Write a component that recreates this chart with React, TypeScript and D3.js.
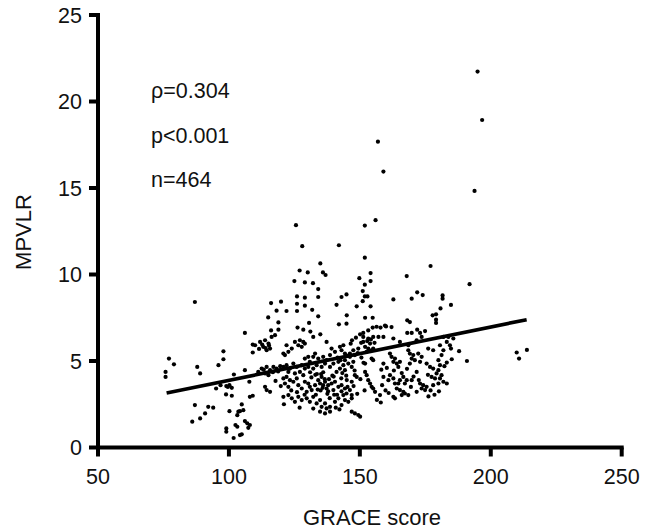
import React from "react";
import * as d3 from "d3";

// X: GRACE score, Y: MPVLR
const xTicks = [50, 100, 150, 200, 250];
const yTicks = [0, 5, 10, 15, 20, 25];
const annotations = ["ρ=0.304", "p<0.001", "n=464"];
const regressionLine: [number, number][] = [[76.2, 3.15], [213.7, 7.39]];

const lowGrace: [number, number][] = [
  [75.8,4.37],[75.8,4.08],[77.1,5.14],[79.0,4.81],[87.0,8.41],[87.9,4.66],[89.0,4.28],[97.9,5.56],[97.9,5.10],[96.0,4.76],
  [109.1,5.95],[109.1,5.49],[106.1,4.47],[101.9,4.22],[107.8,3.80],[99.0,3.55],[100.2,3.60],[101.1,3.45],[99.6,3.50],[96.8,3.60],
  [95.1,3.41],[98.9,3.07],[101.1,2.99],[108.0,2.93],[109.1,2.99],[104.9,2.49],[87.0,2.45],[92.1,2.35],[94.0,2.30],[90.9,1.97],
  [89.0,1.68],[86.0,1.49],[100.2,2.10],[103.2,1.87],[103.6,2.07],[104.2,2.10],[105.5,2.16],[106.1,1.53],[107.0,1.40],[107.4,1.14],
  [108.0,1.30],[99.0,1.10],[99.0,0.91],[102.5,1.30],[103.2,1.20],[104.2,0.72],[104.9,0.76],[101.8,0.55],[106.1,6.62]
];

const upperMid: [number, number][] = [
  [128.0,11.64],[142.0,11.69],[134.9,10.64],[127.0,10.23],[130.1,10.12],[135.9,10.12],[136.9,9.97],[125.0,9.62],[129.0,9.54],[132.1,9.50],
  [134.1,9.16],[126.0,8.73],[129.0,8.66],[134.1,8.70],[143.0,8.70],[144.9,8.85],[116.1,8.35],[119.9,8.43],[126.0,8.31],[129.0,8.20],
  [141.1,8.25],[118.2,7.91],[122.0,7.89],[126.0,7.89],[131.8,7.96],[115.0,7.52],[118.9,7.23],[134.1,7.58],[130.6,7.20],[116.1,6.77],
  [118.9,6.81],[126.2,6.93],[128.4,6.81],[131.1,6.70],[144.9,7.16],[142.0,7.12],[134.9,6.54],[145.0,7.64]
];

const outliers: [number, number][] = [
  [194.96,21.73],[196.7,18.93],[156.9,17.68],[159.0,15.95],[193.8,14.83],[156.0,13.14],[151.9,12.83],[125.6,12.85],[151.9,10.97],[177.0,10.49]
];

const upperRight: [number, number][] = [
  [149.8,9.79],[154.1,10.08],[154.1,9.62],[151.9,9.41],[151.1,9.04],[151.9,8.73],[152.9,8.73],[151.1,8.46],[148.8,8.16],[154.1,8.16],
  [162.8,8.56],[167.9,9.91],[169.8,8.60],[171.9,8.97],[174.0,8.81],[181.6,8.79],[181.6,8.60],[180.8,8.04],[177.8,7.64],[179.1,7.70],
  [179.1,7.39],[179.1,7.20],[152.0,7.50],[154.9,7.50],[157.9,6.93],[160.0,7.00],[162.1,6.96],[154.9,6.93],[153.2,6.77],[151.3,6.62],
  [150.1,6.54],[168.1,6.62],[169.8,6.62],[171.9,6.81],[174.9,6.73],[168.1,7.35],[169.1,7.25],[156.4,6.98],[159.6,7.05],[173.0,6.62],
  [191.9,9.44],[184.8,8.24],[182.3,4.70]
];

const farRight: [number, number][] = [
  [183.8,6.39],[185.7,6.30],[183.2,6.10],[184.4,5.91],[184.8,5.72],[187.9,5.57],[183.2,4.91],[185.1,5.10],[190.9,5.00],[183.2,3.70],
  [209.9,5.49],[210.8,5.14],[213.8,5.64]
];

const denseLeft: [number, number][] = [
  [111.9,6.10],[113.8,6.20],[115.1,6.01],[115.7,5.72],[114.4,5.62],[113.1,5.82],[110.0,5.91],[116.3,6.39],[117.6,6.49],[122.0,5.91],
  [124.0,5.72],[122.7,5.53],[121.4,5.34],[120.8,5.43],[125.2,6.10],[127.1,6.20],[128.4,6.10],[129.0,6.01],[126.5,5.91],[127.8,5.82],
  [132.2,6.39],[137.3,6.10],[132.9,5.43],[139.2,5.72],[140.5,5.53],[142.4,5.82],[143.0,5.62],[144.3,5.43],[143.7,5.91],[129.0,5.14],
  [130.3,5.24],[132.2,5.24],[134.1,5.14],[136.0,5.24],[137.3,5.05],[138.6,5.34],[130.9,4.95],
  [112.5,4.56],[114.4,4.66],[115.7,4.47],[117.0,4.66],[118.2,4.56],[111.2,4.37],[113.8,4.28],[115.1,4.18],[120.8,4.66],[122.0,4.76],
  [123.3,4.56],[124.6,4.85],[125.9,4.66],[127.8,4.76],[129.0,4.56],[130.3,4.66],[122.7,4.37],[125.2,4.28],[127.1,4.37],[128.4,4.18],
  [132.2,4.56],[133.5,4.76],[135.4,4.66],[136.7,4.85],[138.6,4.66],[139.9,4.85],[141.8,4.95],[143.7,4.76],[144.3,5.05],[145.6,4.85],
  [142.4,4.56],[144.3,4.47],[141.1,4.37],
  [120.8,3.99],[122.0,4.08],[123.3,3.89],[121.4,3.70],[122.7,3.51],[124.6,3.80],[125.9,3.99],[126.5,3.60],[127.8,3.41],[129.0,3.80],
  [130.3,3.70],[130.9,3.51],[129.7,3.22],[131.6,3.32],[132.9,3.60],[134.1,3.89],[135.4,4.08],[134.8,3.70],[136.0,3.60],[136.7,3.80],
  [137.3,3.41],[137.9,3.60],[139.2,3.70],[140.5,3.80],[139.9,3.32],[141.8,3.51],[143.0,3.60],[144.3,3.41],[144.9,3.12],[143.7,3.03],
  [113.8,3.51],[114.4,3.32],[115.7,3.22],
  [120.8,2.93],[122.7,3.03],[124.0,2.84],[125.2,2.64],[126.5,2.93],[127.8,2.74],[129.7,2.84],[130.9,2.64],[132.2,2.93],[133.5,2.55],
  [134.8,2.74],[135.4,2.35],[136.7,2.55],[137.3,2.26],[138.6,2.35],[134.8,2.07],[136.7,1.97],[138.6,2.07],[140.5,2.64],[141.8,2.84],
  [143.0,2.45],[144.3,2.74],[145.6,2.64],
  [133.6,4.25],[135.0,3.30],[136.0,4.35],[138.2,3.95],[137.6,3.10],[139.5,4.15],[133.2,3.05],[131.0,4.35],[140.2,3.05],[138.5,2.85],
  [135.8,3.45],[136.6,3.95],[137.9,3.25],[133.9,3.35],[135.2,4.25],[141.5,5.20],[142.6,5.05],[143.3,4.30],[144.8,4.15],[145.2,5.30],
  [112.7,5.95],[114.0,5.75],[115.3,5.90],[111.5,5.70],[113.3,4.50],[116.8,4.35],[118.8,4.40],[119.6,4.70],
  [140.0,4.10],[142.9,4.00],[145.0,3.90],[141.3,3.05],[143.0,3.25],[145.3,3.50],[140.8,2.30],[142.2,2.20],
  [126.0,3.20],[128.9,3.05],[123.8,3.30],[131.5,4.05],[133.0,4.20],[119.8,3.55],[117.8,3.85],[121.0,2.50],[127.0,2.30],[132.2,2.25]
];

const denseRight: [number, number][] = [
  [151.3,6.39],[153.2,6.30],[155.1,6.39],[157.1,6.39],[159.0,6.39],[151.3,6.10],[152.0,5.82],[153.2,5.72],[153.9,6.01],[154.5,5.62],
  [155.1,5.72],[152.6,5.53],[149.4,5.72],[147.5,5.62],[146.2,5.43],[148.1,5.34],[162.8,6.30],[165.3,6.10],[168.5,5.91],[171.7,6.20],
  [173.6,6.39],[176.1,5.72],[178.0,5.62],[180.6,5.91],[181.9,6.39],
  [146.2,5.24],[147.5,4.95],[146.9,4.66],[152.0,4.85],[154.5,5.14],[155.1,5.05],[159.0,4.85],[161.5,5.43],[162.1,5.24],[163.4,5.14],
  [162.8,4.95],[164.1,4.85],[165.3,4.95],[164.7,4.66],[168.5,5.62],[169.1,5.43],[170.4,5.34],[169.8,5.14],[171.0,5.05],[172.3,5.43],
  [173.6,5.24],[173.0,4.95],[169.1,4.85],[175.5,4.85],[176.8,4.66],[178.0,4.56],[180.0,5.05],[180.6,4.76],[180.0,4.47],[181.2,5.34],
  [181.9,5.62],
  [148.1,4.18],[148.8,4.08],[152.0,4.37],[152.6,4.18],[153.2,3.89],[153.9,3.70],[154.5,3.51],[155.1,3.41],[155.8,3.22],[157.7,3.03],
  [146.9,3.80],[146.2,3.32],[146.9,3.03],[146.9,2.84],[159.0,4.08],[160.9,3.89],[161.5,4.18],[162.8,3.99],[163.4,3.70],[164.7,3.70],
  [165.3,3.89],[166.6,4.08],[167.2,3.70],[167.9,3.89],[169.8,3.89],[164.1,3.41],[165.3,3.32],[166.6,3.22],[166.0,3.03],[167.2,3.12],
  [162.8,2.93],[163.4,2.84],[168.5,3.03],[171.7,4.37],[173.0,3.70],[174.2,3.60],[173.6,3.41],[174.9,3.32],[175.5,3.51],[171.7,3.22],
  [177.4,4.08],[178.7,3.99],[179.3,4.28],[180.6,3.99],[180.0,3.70],[181.2,4.18],[181.9,3.80],[178.0,3.60],
  [146.9,2.07],[148.1,1.97],[149.4,1.88],[150.1,1.78],
  [147.0,6.20],[148.5,6.35],[150.5,6.05],[152.8,6.15],[154.2,6.25],[155.6,6.05],[149.2,5.45],[150.6,5.20],[146.5,6.00],[151.4,4.90],
  [158.2,4.50],[160.3,4.60],[163.0,4.45],[166.0,4.30],[168.0,4.55],[170.5,4.10],[158.5,3.60],[159.8,3.30],[161.0,3.15],[169.5,3.50],
  [172.5,3.90],[176.0,4.20],[177.0,3.30],[178.5,3.05],[180.2,3.25],[156.5,2.75],[158.0,2.60],[176.2,2.95],
  [148.0,4.45],[150.2,3.95],[147.6,3.55],[149.0,3.10],[151.8,3.30]
];

const allPoints = [...lowGrace, ...upperMid, ...outliers, ...upperRight, ...farRight, ...denseLeft, ...denseRight];

const W = 656;
const H = 529;
const FONT = "'Liberation Sans', Arial, Helvetica, sans-serif";

export default function App() {
  const x = d3.scaleLinear().domain([50, 250]).range([98, 621.7]);
  const y = d3.scaleLinear().domain([0, 25]).range([447.5, 15]);
  const line = d3.line<[number, number]>().x((d) => x(d[0])).y((d) => y(d[1]));
  const axisW = 4;
  const tickLen = 9;
  const annY = [98, 143, 187];

  return (
    <svg width={W} height={H} style={{ position: "absolute", left: 0, top: 0, background: "#fff" }} fontFamily={FONT}>
      {allPoints.map((d, i) => (
        <circle key={i} cx={x(d[0])} cy={y(d[1])} r={2.1} fill="#000" />
      ))}
      <path d={line(regressionLine) || ""} stroke="#000" strokeWidth={3.6} fill="none" />
      <line x1={x(50)} x2={x(50)} y1={y(25) - axisW / 2} y2={y(0) + axisW / 2} stroke="#000" strokeWidth={axisW} />
      {yTicks.map((t) => (
        <g key={"y" + t}>
          <line x1={x(50) - tickLen} x2={x(50)} y1={y(t)} y2={y(t)} stroke="#000" strokeWidth={axisW} />
          <text x={82} y={y(t)} dy="0.36em" textAnchor="end" fontSize={21.5} fill="#111">{t}</text>
        </g>
      ))}
      <line x1={x(50) - axisW / 2} x2={x(250) + axisW / 2} y1={y(0)} y2={y(0)} stroke="#000" strokeWidth={axisW} />
      {xTicks.map((t) => (
        <g key={"x" + t}>
          <line x1={x(t)} x2={x(t)} y1={y(0)} y2={y(0) + tickLen} stroke="#000" strokeWidth={axisW} />
          <text x={x(t)} y={483.5} textAnchor="middle" fontSize={21.5} fill="#111">{t}</text>
        </g>
      ))}
      <text x={372} y={525} textAnchor="middle" fontSize={22} fill="#111">GRACE score</text>
      <text transform={`translate(31,232) rotate(-90)`} textAnchor="middle" fontSize={22} fill="#111">MPVLR</text>
      {annotations.map((a, i) => (
        <text key={a} x={151} y={annY[i]} fontSize={21.5} fill="#111">{a}</text>
      ))}
    </svg>
  );
}
